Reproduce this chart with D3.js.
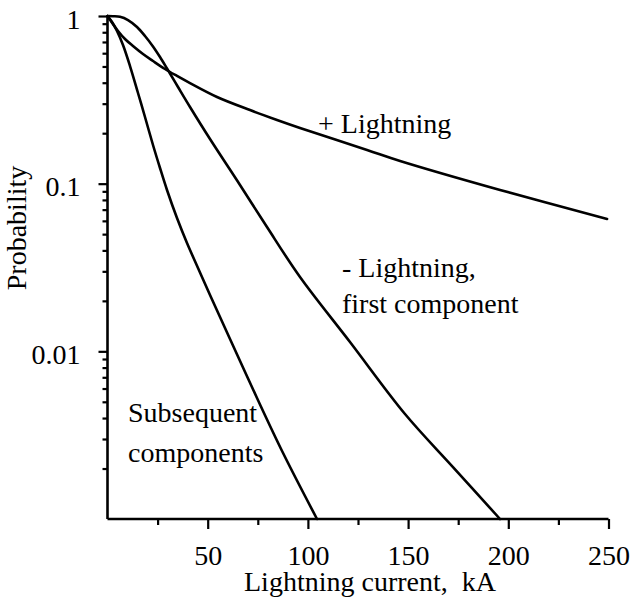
<!DOCTYPE html>
<html>
<head>
<meta charset="utf-8">
<script src="https://cdn.jsdelivr.net/npm/d3@7"></script>
<style>
  html, body { margin: 0; padding: 0; background: #fff; }
  svg { display: block; }
  svg text { font-family: "Liberation Serif", "Times New Roman", serif !important; fill: #000; }
</style>
</head>
<body>
<svg id="chart" width="632" height="598"></svg>
<script>
// Probability that the peak lightning current exceeds a given value (kA)
const positiveCurrent = [0, 5.24, 8.73, 12.72, 17.71, 22.7, 28.69, 34.68, 41.17, 54.64, 71.1, 84.58, 96.06, 129.5, 146, 195.9, 249.3];
const positiveProb    = [1, 0.814, 0.729, 0.662, 0.593, 0.539, 0.483, 0.439, 0.398, 0.329, 0.275, 0.240, 0.215, 0.159, 0.1366, 0.0917, 0.0616];

const firstCurrent = [0, 2.74, 6.24, 10.23, 14.72, 18.71, 22.7, 26.2, 29.69, 35.18, 41.17, 51.15, 66.12, 79.59, 96.06, 121.0, 148.45, 172.4, 195.86];
const firstProb    = [1, 0.997, 0.989, 0.9465, 0.860, 0.760, 0.658, 0.569, 0.486, 0.377, 0.2866, 0.1846, 0.0982, 0.0551, 0.02776, 0.01137, 0.00423, 0.00204, 0.001];

const subsequentCurrent = [0, 2.25, 4.74, 7.73, 11.23, 15.22, 18.71, 22.7, 26.2, 29.69, 34.68, 39.67, 45.16, 51.15, 61.13, 74.6, 87.6, 104.54];
const subsequentProb    = [1, 0.921, 0.814, 0.671, 0.503, 0.3473, 0.2498, 0.1701, 0.124, 0.0917, 0.0624, 0.04426, 0.03141, 0.02168, 0.01185, 0.00527, 0.002476, 0.001];

const xMajorTicks = [50, 100, 150, 200, 250];
const xMinorTicks = [25, 75, 125, 175, 225];
const yMajorTicks = [1, 0.1, 0.01];
const yTickLabels = ["1", "0.1", "0.01"];

const FONT = "Liberation Serif, Times New Roman, serif";
const svg = d3.select("#chart");

const x = d3.scaleLinear().domain([0, 250]).range([107.5, 608.5]);
const y = d3.scaleLog().domain([0.001, 1]).range([519, 16]);

const pts = (xs, ys) => xs.map((v, i) => [v, ys[i]]);
const series = [
  pts(positiveCurrent, positiveProb),
  pts(firstCurrent, firstProb),
  pts(subsequentCurrent, subsequentProb)
];

// minor y ticks: 2..9 in each decade
const yMinorTicks = [];
[0.001, 0.01, 0.1].forEach(base => {
  for (let k = 2; k <= 9; k++) yMinorTicks.push(+(base * k).toPrecision(3));
});

// axes
const xAxisG = svg.append("g").attr("transform", `translate(0,${y(0.001)})`);
xAxisG.call(d3.axisBottom(x).tickValues(xMinorTicks).tickSize(6).tickSizeOuter(0).tickFormat(""))
  .call(g => g.select(".domain").remove());
xAxisG.append("g").call(d3.axisBottom(x).tickValues(xMajorTicks).tickSize(10).tickSizeOuter(0).tickPadding(16))
  .call(g => g.select(".domain").remove());

const yAxisG = svg.append("g").attr("transform", `translate(${x(0)},0)`);
yAxisG.call(d3.axisLeft(y).tickValues(yMinorTicks).tickSize(5).tickSizeOuter(0).tickFormat(""))
  .call(g => g.select(".domain").remove());
yAxisG.append("g").call(d3.axisLeft(y).tickValues(yMajorTicks).tickSize(9).tickSizeOuter(0).tickPadding(18)
    .tickFormat((d, i) => yTickLabels[i]))
  .call(g => g.select(".domain").remove());

svg.selectAll("g").attr("font-family", FONT);
svg.selectAll(".tick line").attr("stroke", "#000").attr("stroke-width", 2.2);
svg.selectAll(".tick text")
  .attr("font-family", FONT)
  .attr("font-size", 28);
yAxisG.selectAll(".tick text").attr("dy", "0.43em");

// axis lines
svg.append("line")
  .attr("x1", x(0)).attr("x2", x(0)).attr("y1", y(1)).attr("y2", y(0.001))
  .attr("stroke", "#000").attr("stroke-width", 2.6);
svg.append("line")
  .attr("x1", x(0)).attr("x2", x(250)).attr("y1", y(0.001)).attr("y2", y(0.001))
  .attr("stroke", "#000").attr("stroke-width", 2.6);

// curves
const line = d3.line()
  .x(d => x(d[0]))
  .y(d => y(d[1]))
  .curve(d3.curveCatmullRom.alpha(0.5));

svg.append("g").selectAll("path")
  .data(series)
  .join("path")
  .attr("d", line)
  .attr("fill", "none")
  .attr("stroke", "#000")
  .attr("stroke-width", 2.6)
  .attr("stroke-linejoin", "round")
  .attr("stroke-linecap", "round");

// annotations
const fs = 28;
const notes = [
  { t: "+ Lightning", x: 318, y: 133 },
  { t: "- Lightning,", x: 342, y: 277 },
  { t: "first component", x: 342, y: 313 },
  { t: "Subsequent", x: 128, y: 422 },
  { t: "components", x: 128, y: 462 }
];
svg.append("g").selectAll("text")
  .data(notes)
  .join("text")
  .attr("x", d => d.x)
  .attr("y", d => d.y)
  .attr("font-family", FONT)
  .attr("font-size", fs)
  .text(d => d.t);

// axis titles
svg.append("text")
  .attr("x", (x(0) + x(250)) / 2 + 12)
  .attr("y", 591)
  .attr("text-anchor", "middle")
  .attr("font-family", FONT)
  .attr("font-size", fs)
  .attr("xml:space", "preserve")
  .style("white-space", "pre")
  .text("Lightning current,  kA");

svg.append("text")
  .attr("transform", "translate(26,228) rotate(-90)")
  .attr("text-anchor", "middle")
  .attr("font-family", FONT)
  .attr("font-size", fs)
  .text("Probability");
</script>
</body>
</html>
